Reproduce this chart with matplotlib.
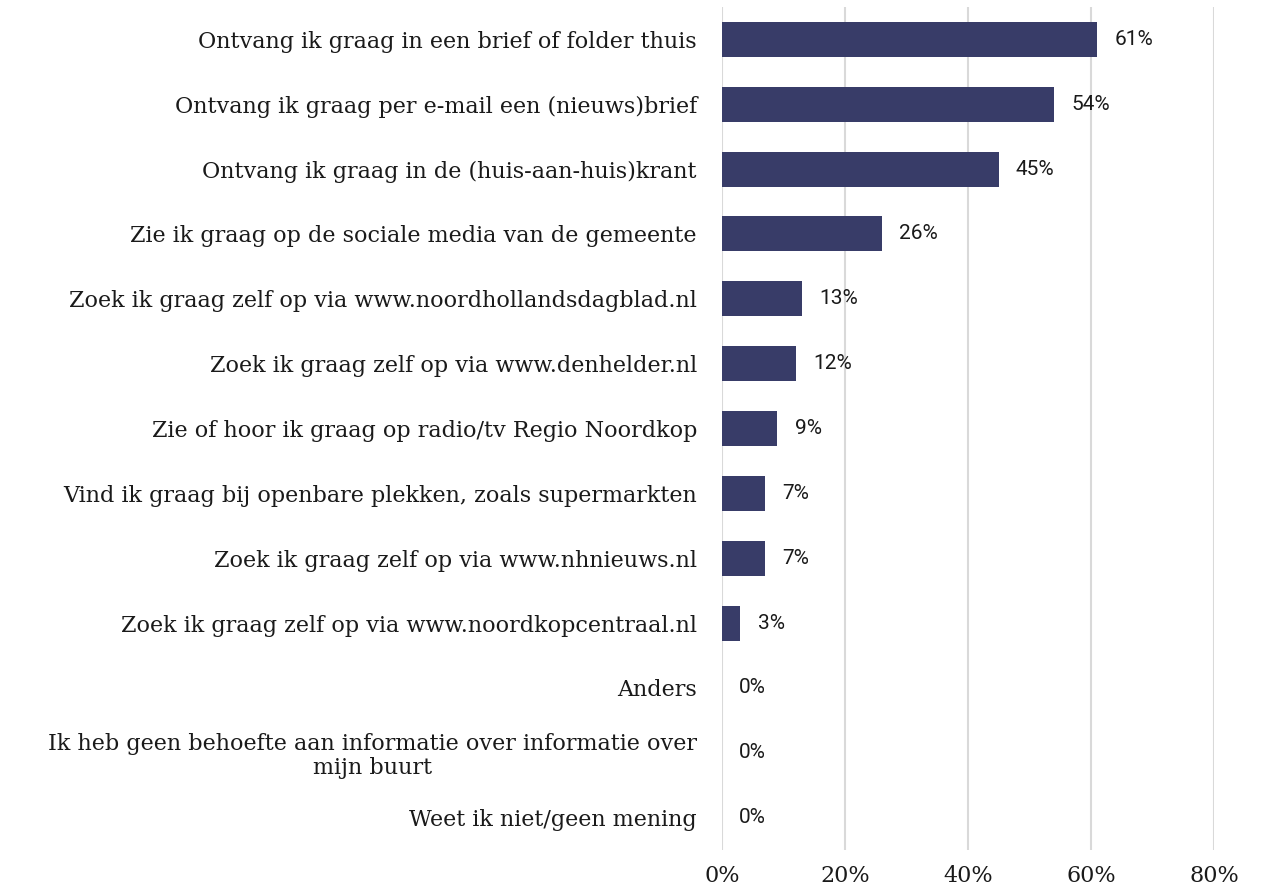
import numpy as np
import matplotlib.pyplot as plt

# Data
labels = [
    "Ontvang ik graag in een brief of folder thuis",
    "Ontvang ik graag per e-mail een (nieuws)brief",
    "Ontvang ik graag in de (huis-aan-huis)krant",
    "Zie ik graag op de sociale media van de gemeente",
    "Zoek ik graag zelf op via www.noordhollandsdagblad.nl",
    "Zoek ik graag zelf op via www.denhelder.nl",
    "Zie of hoor ik graag op radio/tv Regio Noordkop",
    "Vind ik graag bij openbare plekken, zoals supermarkten",
    "Zoek ik graag zelf op via www.nhnieuws.nl",
    "Zoek ik graag zelf op via www.noordkopcentraal.nl",
    "Anders",
    "Ik heb geen behoefte aan informatie over informatie over\nmijn buurt",
    "Weet ik niet/geen mening",
]
values = [61, 54, 45, 26, 13, 12, 9, 7, 7, 3, 0, 0, 0]
xticks = [0, 20, 40, 60, 80]

bar_color = "#383c68"
text_color = "#1a1a1a"

fig = plt.figure(figsize=(12.68, 8.91), dpi=100)
ax = fig.add_axes([722 / 1268, 1 - 850 / 891, 492 / 1268, 843 / 891])

y = np.arange(len(labels))
ax.barh(y, values, height=0.54, color=bar_color, zorder=3)

for yi, v in zip(y, values):
    ax.text(v + 2.8, yi, f"{v}%", va="center", ha="left",
            fontsize=15, family="Roboto", color=text_color)

ax.set_xlim(0, 80)
ax.set_ylim(len(labels) - 0.5, -0.5)
ax.set_xticks(xticks)
ax.set_xticklabels([f"{t}%" for t in xticks], family="DejaVu Serif",
                   fontsize=16, color=text_color)
ax.set_yticks(y)
ax.set_yticklabels(labels, family="DejaVu Serif", fontsize=16,
                   color=text_color, multialignment="center",
                   linespacing=1.1)
ax.tick_params(axis="both", length=0)
ax.tick_params(axis="y", pad=18)
ax.tick_params(axis="x", pad=11)
ax.grid(axis="x", color="#d9d9d9", linewidth=1.5, zorder=0)
for s in ax.spines.values():
    s.set_visible(False)

fig.savefig("out.png", dpi=100)
